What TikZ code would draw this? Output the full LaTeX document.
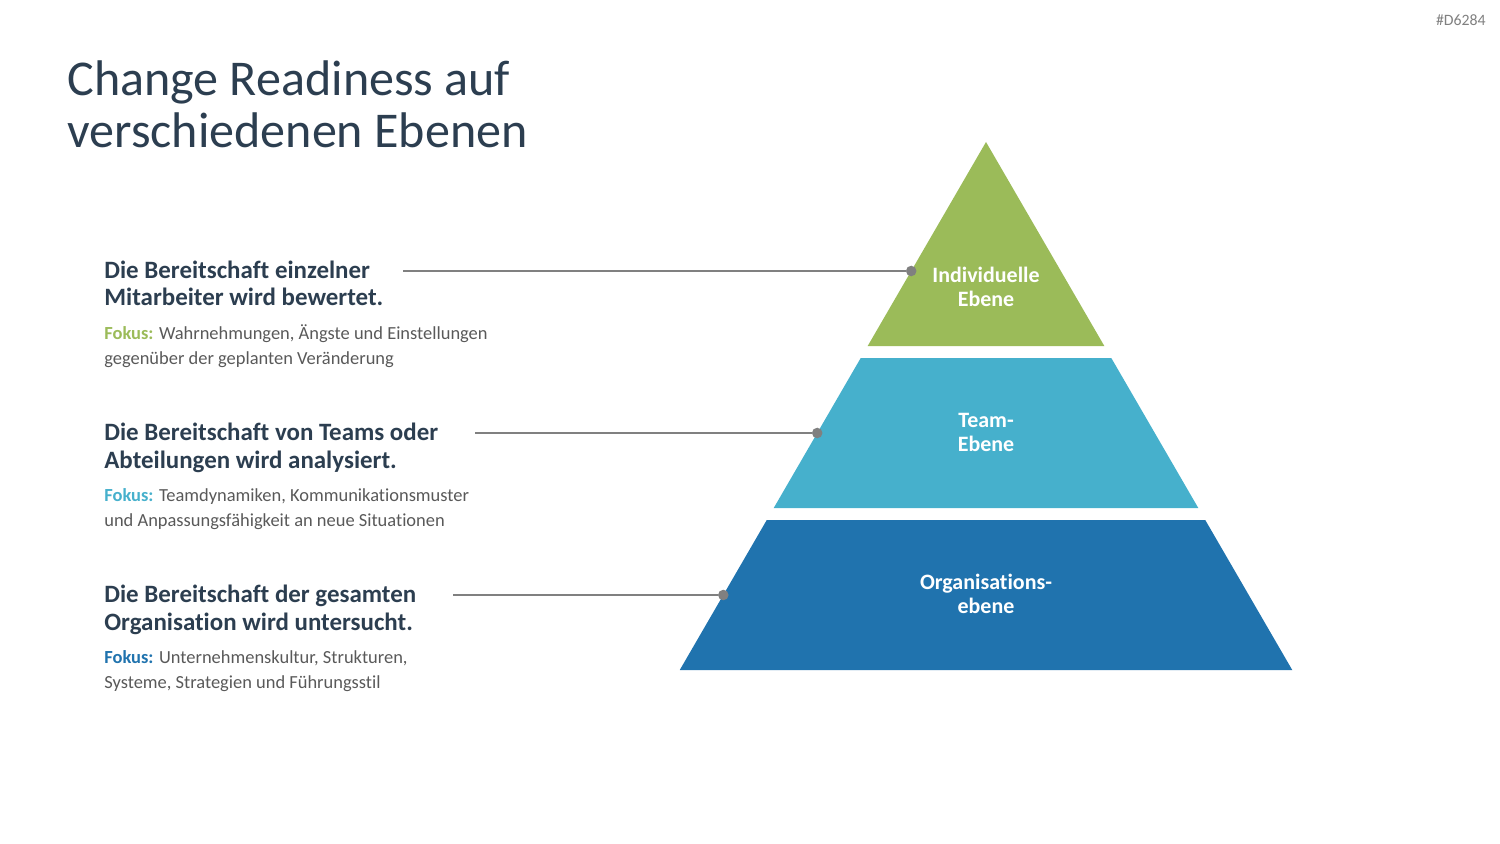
\documentclass[tikz,border=0pt]{standalone}
\usepackage{fontspec}
\setmainfont[Ligatures={NoCommon}]{Carlito}
\usepackage{xcolor}
\usetikzlibrary{positioning}

\definecolor{titlecol}{RGB}{44,62,80}
\definecolor{bodygray}{RGB}{89,89,89}
\definecolor{linegray}{RGB}{128,128,128}
\definecolor{lvlgreen}{RGB}{155,187,89}
\definecolor{lvlteal}{RGB}{70,176,204}
\definecolor{lvlblue}{RGB}{32,115,174}

\begin{document}
\begin{tikzpicture}[x=0.02cm,y=-0.02cm,
  heading/.style={anchor=base west,align=left,inner sep=0pt,text=titlecol,font=\fontsize{14.2}{15.4}\selectfont\bfseries},
  body/.style={anchor=base west,align=left,inner sep=0pt,text=bodygray,font=\fontsize{10.5}{13.7}\selectfont},
  level/.style={align=center,inner sep=0pt,text=white,font=\fontsize{12.5}{13.7}\selectfont\bfseries},
  conn/.style={draw=linegray,line width=0.85pt},
  dot/.style={circle,fill=linegray,inner sep=0pt,minimum size=6pt}]
\useasboundingbox (0,0) rectangle (1500,844);

% title and tag
\node[anchor=base west,align=left,inner sep=0pt,text=titlecol,font=\fontsize{28.5}{30.1}\selectfont] (title) at (67,148) {Change Readiness auf\\verschiedenen Ebenen};
\node[anchor=base east,inner sep=0pt,text=linegray,font=\fontsize{9}{10}\selectfont] (tag) at (1486,26) {\#D6284};

% pyramid
\foreach \ytop/\ybot/\col in {142/346/lvlgreen,358/508/lvlteal,520/670/lvlblue} {
  \pgfmathsetmacro{\wtop}{0.58*(\ytop-142)}
  \pgfmathsetmacro{\wbot}{0.58*(\ybot-142)}
  \fill[\col] (986-\wtop,\ytop) -- (986+\wtop,\ytop) -- (986+\wbot,\ybot) -- (986-\wbot,\ybot) -- cycle;
}
\node[level] (indiv) at (986,287) {Individuelle\\Ebene};
\node[level] (team) at (986,432) {Team-\\Ebene};
\node[level] (orga) at (986,594) {Organisations-\\ebene};

% texts on the left
\node[heading] (h1) at (104,306) {Die Bereitschaft einzelner\\Mitarbeiter wird bewertet.};
\node[body] (b1) at (104,364) {\textcolor{lvlgreen}{\bfseries Fokus:} Wahrnehmungen, Ängste und Einstellungen\\gegenüber der geplanten Veränderung};
\node[heading] (h2) at (104,468) {Die Bereitschaft von Teams oder\\Abteilungen wird analysiert.};
\node[body] (b2) at (104,526) {\textcolor{lvlteal}{\bfseries Fokus:} Teamdynamiken, Kommunikationsmuster\\und Anpassungsfähigkeit an neue Situationen};
\node[heading] (h3) at (104,630) {Die Bereitschaft der gesamten\\Organisation wird untersucht.};
\node[body] (b3) at (104,688) {\textcolor{lvlblue}{\bfseries Fokus:} Unternehmenskultur, Strukturen,\\Systeme, Strategien und Führungsstil};

% connectors
\node[dot] (d1) at (911.2,271) {};
\node[dot] (d2) at (817.2,433) {};
\node[dot] (d3) at (723.3,595) {};
\coordinate (s1) at (403,271);
\coordinate (s2) at (475,433);
\coordinate (s3) at (453,595);
\draw[conn] (s1) -- (d1);
\draw[conn] (s2) -- (d2);
\draw[conn] (s3) -- (d3);
\end{tikzpicture}
\end{document}
